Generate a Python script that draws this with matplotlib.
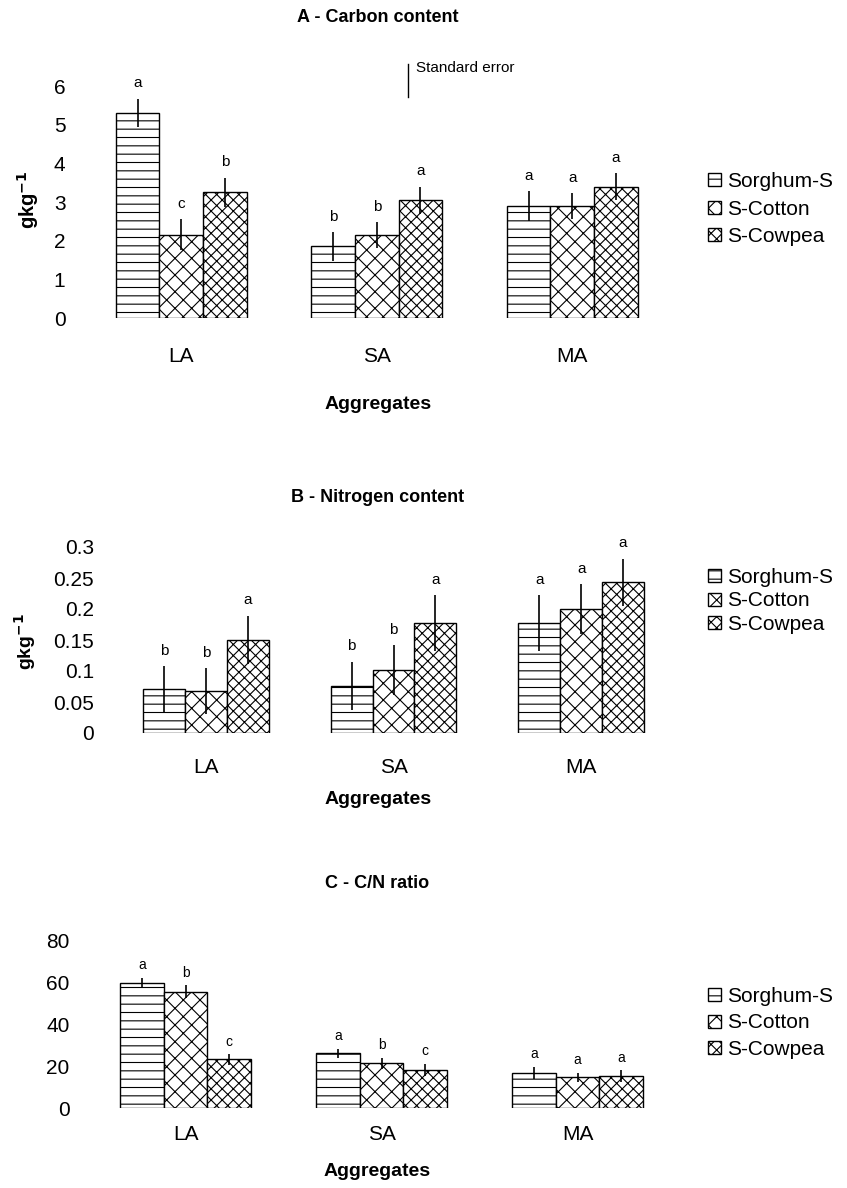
import numpy as np
import matplotlib.pyplot as plt

plt.rcParams['font.family'] = ['Liberation Sans', 'DejaVu Sans']
plt.rcParams['hatch.linewidth'] = 0.8

aggregates = ['LA', 'SA', 'MA']
systems = ['Sorghum-S', 'S-Cotton', 'S-Cowpea']
hatches = ['--', 'xx', 'xxx']

# A - carbon (g/kg)
carbon_sorghum = [5.3, 1.85, 2.9]
carbon_cotton = [2.15, 2.15, 2.9]
carbon_cowpea = [3.25, 3.05, 3.4]
carbon_se_sorghum = [0.37, 0.37, 0.38]
carbon_se_cotton = [0.4, 0.33, 0.33]
carbon_se_cowpea = [0.38, 0.35, 0.35]
carbon_let_sorghum = ['a', 'b', 'a']
carbon_let_cotton = ['c', 'b', 'a']
carbon_let_cowpea = ['b', 'a', 'a']

# B - nitrogen (g/kg)
nitrogen_sorghum = [0.071, 0.076, 0.177]
nitrogen_cotton = [0.068, 0.102, 0.2]
nitrogen_cowpea = [0.15, 0.177, 0.243]
nitrogen_se_sorghum = [0.037, 0.039, 0.045]
nitrogen_se_cotton = [0.037, 0.04, 0.04]
nitrogen_se_cowpea = [0.039, 0.045, 0.038]
nitrogen_let_sorghum = ['b', 'b', 'a']
nitrogen_let_cotton = ['b', 'b', 'a']
nitrogen_let_cowpea = ['a', 'a', 'a']

# C - C/N ratio
cn_sorghum = [60, 26.2, 16.7]
cn_cotton = [55.7, 21.4, 14.8]
cn_cowpea = [23.3, 18.1, 15.2]
cn_se_sorghum = [2.3, 2.2, 3.0]
cn_se_cotton = [3.0, 2.6, 2.2]
cn_se_cowpea = [2.5, 3.0, 2.8]
cn_let_sorghum = ['a', 'a', 'a']
cn_let_cotton = ['b', 'b', 'a']
cn_let_cowpea = ['c', 'c', 'a']

W, H = 847, 1188
fig = plt.figure(figsize=(W / 100, H / 100), dpi=100)


def px_axes(left, right, top, bottom):
    return fig.add_axes([left / W, 1 - bottom / H, (right - left) / W, (bottom - top) / H])


def panel(ax, series, errs, lets, ymax, yticks, ytl, tick_pad, let_off, let_size, leg_y, leg_sp):
    x = np.arange(len(aggregates))
    bw = 0.223
    bars = []
    for i, (vals, se, lt) in enumerate(zip(series, errs, lets)):
        pos = x + (i - 1) * bw
        b = ax.bar(pos, vals, bw, facecolor='white', edgecolor='black',
                   linewidth=1.0, hatch=hatches[i], label=systems[i], zorder=2)
        bars.append(b)
        ax.errorbar(pos, vals, yerr=se, fmt='none', ecolor='black',
                    elinewidth=1.2, capsize=0, zorder=3)
        for p, v, s, l in zip(pos, vals, se, lt):
            ax.annotate(l, (p, v + s), xytext=(0, let_off), textcoords='offset points',
                        ha='center', va='bottom', fontsize=let_size, annotation_clip=False)
    ax.set_xlim(-0.5, 2.5)
    ax.set_ylim(0, ymax)
    ax.set_xticks(x)
    ax.set_xticklabels(aggregates, fontsize=15)
    ax.set_yticks(yticks)
    ax.set_yticklabels(ytl, fontsize=15)
    ax.tick_params(length=0)
    ax.tick_params(axis='y', pad=13)
    ax.tick_params(axis='x', pad=tick_pad)
    for s in ax.spines.values():
        s.set_visible(False)
    fig.legend(handles=bars, labels=systems, loc='center left',
               bbox_to_anchor=(698 / W, 1 - leg_y / H), frameon=False,
               fontsize=15, handlelength=0.6, handleheight=0.6,
               handletextpad=0.3, labelspacing=leg_sp, borderpad=0)


# panel A
axA = px_axes(83.5, 670, 86, 318)
panel(axA, [carbon_sorghum, carbon_cotton, carbon_cowpea],
      [carbon_se_sorghum, carbon_se_cotton, carbon_se_cowpea],
      [carbon_let_sorghum, carbon_let_cotton, carbon_let_cowpea],
      6, range(7), [str(v) for v in range(7)], 21, 6, 11, 209, 0.4)
fig.text(378 / W, 1 - 17 / H, 'A - Carbon content', ha='center', va='center',
         fontsize=13, fontweight='bold')
fig.text(378 / W, 1 - 405 / H, 'Aggregates', ha='center', va='center',
         fontsize=14, fontweight='bold')
fig.text(28 / W, 1 - 200 / H, 'gkg$^{\\mathbf{-1}}$', ha='center', va='center',
         rotation=90, fontsize=14.5, fontweight='bold')
# standard error key
fig.add_artist(plt.Line2D([408 / W, 408 / W], [1 - 64 / H, 1 - 97 / H],
                          color='black', linewidth=1.0))
fig.text(416 / W, 1 - 68 / H, 'Standard error', ha='left', va='center', fontsize=11)

# panel B
axB = px_axes(112, 675, 547, 733)
bt = [0, 0.05, 0.1, 0.15, 0.2, 0.25, 0.3]
panel(axB, [nitrogen_sorghum, nitrogen_cotton, nitrogen_cowpea],
      [nitrogen_se_sorghum, nitrogen_se_cotton, nitrogen_se_cowpea],
      [nitrogen_let_sorghum, nitrogen_let_cotton, nitrogen_let_cowpea],
      0.3, bt, ['0', '0.05', '0.1', '0.15', '0.2', '0.25', '0.3'], 18, 6, 11, 601, 0.22)
fig.text(378 / W, 1 - 497 / H, 'B - Nitrogen content', ha='center', va='center',
         fontsize=13, fontweight='bold')
fig.text(378 / W, 1 - 800 / H, 'Aggregates', ha='center', va='center',
         fontsize=14, fontweight='bold')
fig.text(25 / W, 1 - 642 / H, 'gkg$^{\\mathbf{-1}}$', ha='center', va='center',
         rotation=90, fontsize=14, fontweight='bold')

# panel C
axC = px_axes(87.5, 675.5, 941, 1108)
panel(axC, [cn_sorghum, cn_cotton, cn_cowpea],
      [cn_se_sorghum, cn_se_cotton, cn_se_cowpea],
      [cn_let_sorghum, cn_let_cotton, cn_let_cowpea],
      80, [0, 20, 40, 60, 80], ['0', '20', '40', '60', '80'], 12, 4, 10, 1023, 0.35)
fig.text(377 / W, 1 - 883 / H, 'C - C/N ratio', ha='center', va='center',
         fontsize=13, fontweight='bold')
fig.text(377 / W, 1 - 1172 / H, 'Aggregates', ha='center', va='center',
         fontsize=14, fontweight='bold')

fig.savefig('out.png', dpi=100)
